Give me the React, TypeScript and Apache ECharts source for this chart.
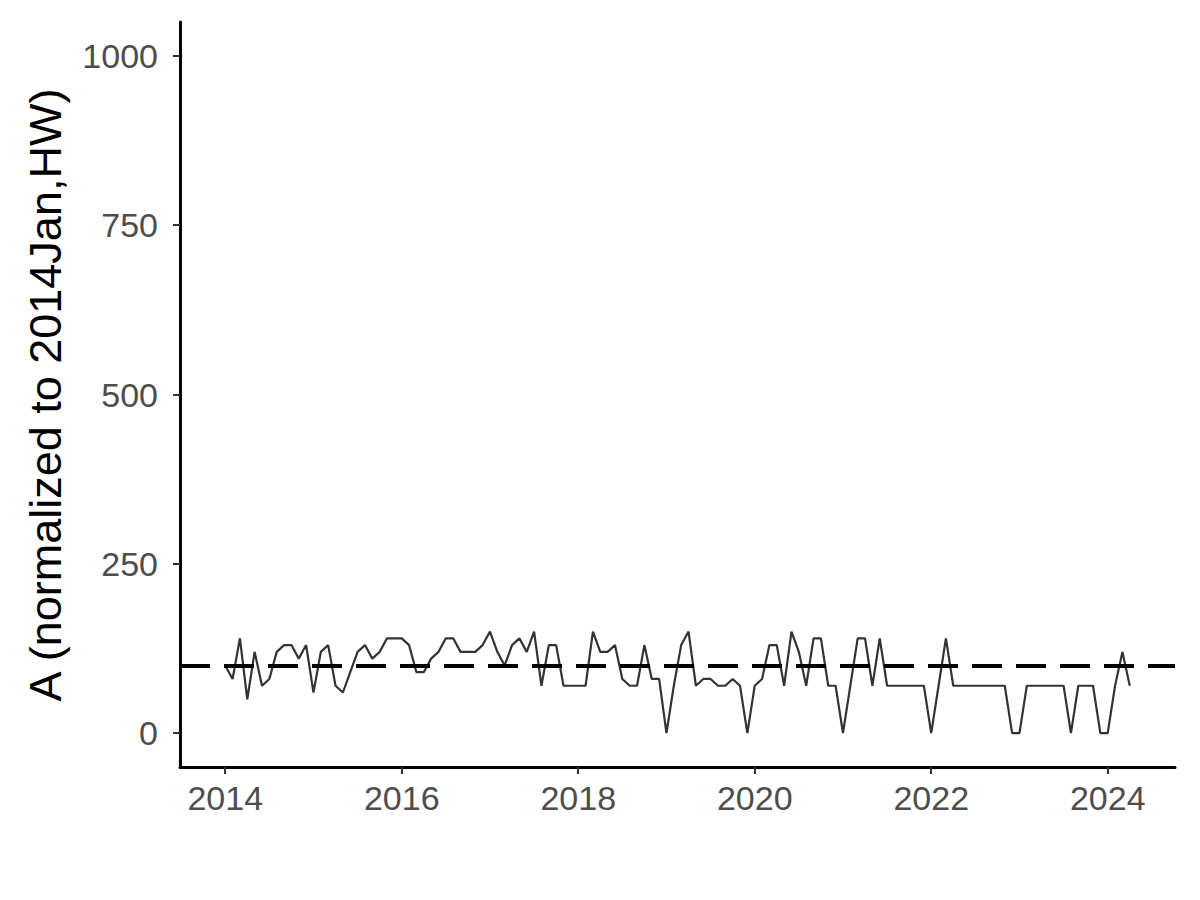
import React, { useEffect, useRef } from "react";
import * as echarts from "echarts";

const startYear = 2014;
const v2014 = [100, 80, 140, 50, 120, 70, 80, 120, 130, 130, 110, 130];
const v2015 = [60, 120, 130, 70, 60, 90, 120, 130, 110, 120, 140, 140];
const v2016 = [140, 130, 90, 90, 110, 120, 140, 140, 120, 120, 120, 130];
const v2017 = [150, 120, 100, 130, 140, 120, 150, 70, 130, 130, 70, 70];
const v2018 = [70, 70, 150, 120, 120, 130, 80, 70, 70, 130, 80, 80];
const v2019 = [0, 70, 130, 150, 70, 80, 80, 70, 70, 80, 70, 0];
const v2020 = [70, 80, 130, 130, 70, 150, 120, 70, 140, 140, 70, 70];
const v2021 = [0, 70, 140, 140, 70, 140, 70, 70, 70, 70, 70, 70];
const v2022 = [0, 70, 140, 70, 70, 70, 70, 70, 70, 70, 70, 0];
const v2023 = [0, 70, 70, 70, 70, 70, 70, 0, 70, 70, 70, 0];
const v2024 = [0, 70, 120, 70];

const xTicks = [2014, 2016, 2018, 2020, 2022, 2024];
const yTicks = [0, 250, 500, 750, 1000];
const refLevel = 100;
const yTitle = "A (normalized to 2014Jan,HW)";

const allValues = [
  ...v2014, ...v2015, ...v2016, ...v2017, ...v2018, ...v2019,
  ...v2020, ...v2021, ...v2022, ...v2023, ...v2024,
];

export default function App() {
  const ref = useRef<HTMLDivElement>(null);
  useEffect(() => {
    if (!ref.current) return;
    const chart = echarts.init(ref.current, null, { renderer: "svg" });
    const data = allValues.map((v, i) => [startYear + i / 12, v]);
    const xFirst = startYear;
    const xLast = startYear + (allValues.length - 1) / 12;
    const xPad = (xLast - xFirst) * 0.05;
    const yPad = (1000 - 0) * 0.05;
    const font = "Liberation Sans, Arial, sans-serif";
    chart.setOption({
      animation: false,
      grid: { left: 180, right: 25, top: 22, bottom: 133, containLabel: false },
      xAxis: {
        type: "value",
        min: xFirst - xPad,
        max: xLast + xPad,
        axisLine: { show: true, onZero: false, lineStyle: { color: "#000", width: 3 } },
        axisTick: { show: true, length: 7, customValues: xTicks, lineStyle: { color: "#333", width: 2 } },
        axisLabel: {
          customValues: xTicks,
          formatter: (v: number) => String(Math.round(v)),
          color: "#4d4d4d",
          fontSize: 34,
          fontFamily: font,
          margin: 14,
        },
        splitLine: { show: false },
      },
      yAxis: {
        type: "value",
        min: 0 - yPad,
        max: 1000 + yPad,
        axisLine: { show: true, onZero: false, lineStyle: { color: "#000", width: 3 } },
        axisTick: { show: true, length: 7, customValues: yTicks, lineStyle: { color: "#333", width: 2 } },
        axisLabel: {
          customValues: yTicks,
          formatter: (v: number) => String(Math.round(v)),
          color: "#4d4d4d",
          fontSize: 34,
          fontFamily: font,
          margin: 22,
        },
        splitLine: { show: false },
      },
      graphic: [
        {
          type: "text",
          x: 45,
          y: 395,
          rotation: Math.PI / 2,
          style: {
            text: yTitle,
            fontSize: 45,
            fontFamily: font,
            fill: "#000",
            align: "center",
            verticalAlign: "middle",
          },
        },
      ],
      series: [
        {
          type: "line",
          data,
          showSymbol: false,
          symbol: "none",
          lineStyle: { color: "#333333", width: 2.2 },
          z: 2,
          markLine: {
            silent: true,
            symbol: "none",
            label: { show: false },
            lineStyle: { color: "#000", width: 4, type: [30, 14] },
            data: [{ yAxis: refLevel }],
            z: 3,
          },
        },
      ],
    });
    return () => chart.dispose();
  }, []);
  return (
    <div
      ref={ref}
      style={{ position: "fixed", left: 0, top: 0, width: 1200, height: 900, background: "#fff" }}
    />
  );
}
